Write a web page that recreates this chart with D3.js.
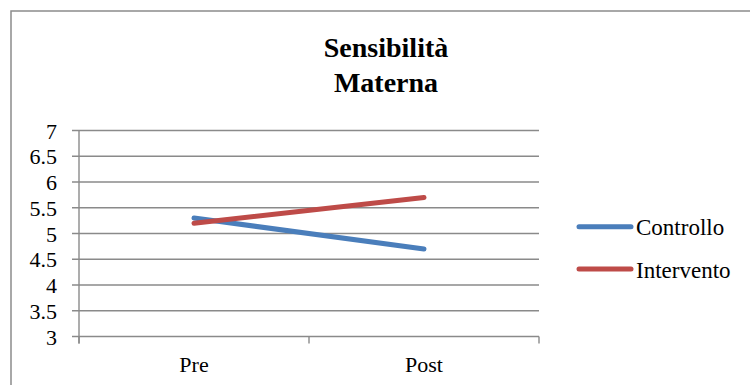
<!DOCTYPE html>
<html><head><meta charset="utf-8">
<script src="https://cdn.jsdelivr.net/npm/d3@7"></script>
<style>
html body svg#c text, html body svg#c tspan { font-family: "Liberation Serif", "Times New Roman", Times, serif !important; }
</style>
</head><body style="margin:0;background:#fff">
<svg id="c" width="750" height="385" style="display:block"></svg>
<script>
const categories = ["Pre", "Post"];
const controllo = [5.3, 4.7];
const intervento = [5.2, 5.7];
const seriesNames = ["Controllo", "Intervento"];
const yTicks = [3, 3.5, 4, 4.5, 5, 5.5, 6, 6.5, 7];
const titleLines = ["Sensibilità", "Materna"];

const colors = ["#4A7EBB", "#BE4B48"];
const serifStack = '"Liberation Serif", "Times New Roman", Times, serif';
const svg = d3.select("#c");

// chart border
svg.append("rect").attr("x", 11).attr("y", 11).attr("width", 760).attr("height", 400)
  .attr("fill", "none").attr("stroke", "#8c8c8c").attr("stroke-width", 1.5);

const pLeft = 79, pRight = 539, pTop = 130.5, pBottom = 336.5;
const y = d3.scaleLinear().domain([3, 7]).range([pBottom, pTop]);
const x = d3.scaleBand().domain(categories).range([pLeft, pRight]);

// gridlines
svg.append("g").selectAll("line").data(yTicks).join("line")
  .attr("x1", pLeft - 7).attr("x2", pRight)
  .attr("y1", d => y(d)).attr("y2", d => y(d))
  .attr("stroke", "#8a8a8a").attr("stroke-width", 1.4);

// y axis line
svg.append("line").attr("x1", pLeft).attr("x2", pLeft).attr("y1", pTop).attr("y2", pBottom + 7)
  .attr("stroke", "#8a8a8a").attr("stroke-width", 1.4);

// x tick marks
const xt = [pLeft].concat(categories.map(c => x(c) + x.bandwidth()));
svg.append("g").selectAll("line").data(xt).join("line")
  .attr("x1", d => d).attr("x2", d => d).attr("y1", pBottom).attr("y2", pBottom + 7)
  .attr("stroke", "#8a8a8a").attr("stroke-width", 1.4);

// y tick labels
svg.append("g").selectAll("text").data(yTicks).join("text")
  .attr("x", 57).attr("y", d => y(d) + 8)
  .attr("text-anchor", "end").attr("font-size", 22)
  .style("font-family", serifStack, "important")
  .text(d => d);

// x labels
svg.append("g").selectAll("text").data(categories).join("text")
  .attr("x", d => x(d) + x.bandwidth() / 2).attr("y", 372)
  .attr("text-anchor", "middle").attr("font-size", 22)
  .style("font-family", serifStack, "important")
  .text(d => d);

// lines
const line = d3.line().x((d, i) => x(categories[i]) + x.bandwidth() / 2).y(d => y(d));
[controllo, intervento].forEach((s, i) => {
  svg.append("path").attr("d", line(s)).attr("fill", "none")
    .attr("stroke", colors[i]).attr("stroke-width", 5).attr("stroke-linecap", "round");
});

// title
svg.append("text").attr("x", 386).attr("y", 56.5).attr("text-anchor", "middle")
  .attr("font-size", 28).attr("font-weight", "bold")
  .style("font-family", serifStack, "important")
  .selectAll("tspan").data(titleLines).join("tspan")
  .attr("x", 386).attr("dy", (d, i) => i === 0 ? 0 : 35)
  .style("font-family", serifStack, "important")
  .text(d => d);

// legend
const ly = [226.7, 269];
const lg = svg.append("g").selectAll("g").data(seriesNames).join("g");
lg.append("line").attr("x1", 579).attr("x2", 631).attr("y1", (d, i) => ly[i]).attr("y2", (d, i) => ly[i])
  .attr("stroke", (d, i) => colors[i]).attr("stroke-width", 5).attr("stroke-linecap", "round");
lg.append("text").attr("x", 636).attr("y", (d, i) => ly[i] + 8.5)
  .attr("font-size", 23)
  .style("font-family", serifStack, "important").text(d => d);
</script>
</body></html>
